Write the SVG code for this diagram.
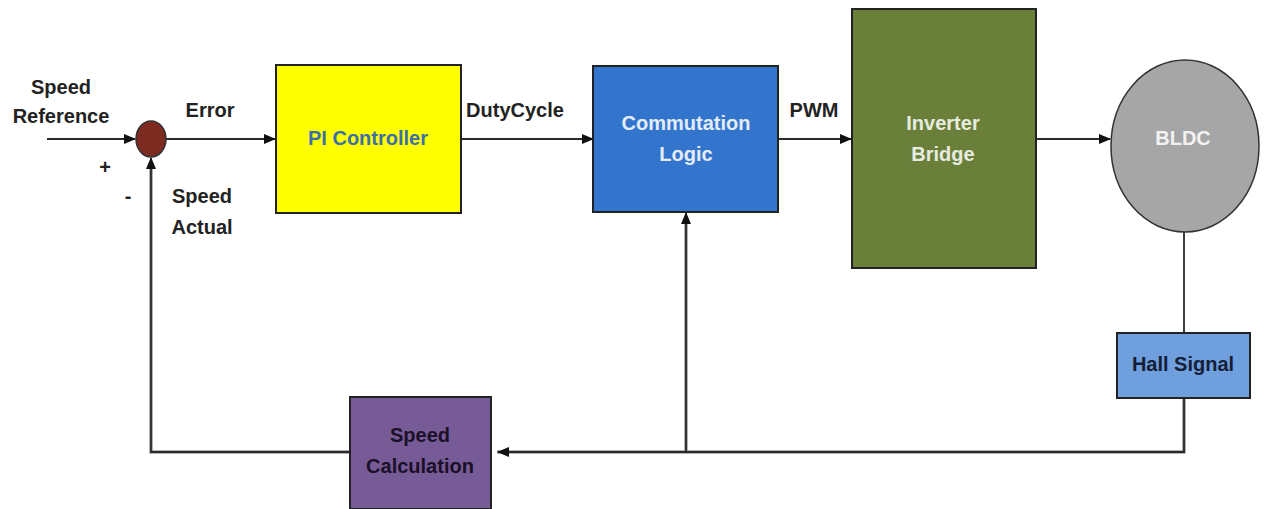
<svg xmlns="http://www.w3.org/2000/svg" width="1267" height="509" viewBox="0 0 1267 509">
<defs>
<marker id="arr" markerWidth="12" markerHeight="10" refX="11" refY="5" orient="auto" markerUnits="userSpaceOnUse">
<path d="M0,0 L12,5 L0,10 Z" fill="#111"/>
</marker>
<style>
text{font-family:"Liberation Sans",Arial,sans-serif;font-weight:bold;font-size:20px;text-anchor:middle}
.lbl{fill:#222}
.box{stroke:#222;stroke-width:2}
.ln{fill:none;stroke:#2a2a2a;stroke-width:1.8}
.fb{fill:none;stroke:#9a9a9a;stroke-width:3.5}
</style>
</defs>
<rect width="1267" height="509" fill="#ffffff"/>
<g id="connectors">
<path class="fb" d="M1184,398 V452 H497 M686,452 V218 M350,452 H151 V164"/>
<line class="ln" x1="47" y1="139" x2="135" y2="139" marker-end="url(#arr)"/>
<line class="ln" x1="166" y1="139" x2="275" y2="139" marker-end="url(#arr)"/>
<line class="ln" x1="461" y1="139" x2="593" y2="139" marker-end="url(#arr)"/>
<line class="ln" x1="778" y1="139" x2="851" y2="139" marker-end="url(#arr)"/>
<line class="ln" x1="1036" y1="139" x2="1110" y2="139" marker-end="url(#arr)"/>
<line class="ln" x1="1184" y1="232" x2="1184" y2="333"/>
<path class="ln" d="M1184,398 V452 H498" marker-end="url(#arr)"/>
<line class="ln" x1="686" y1="452" x2="686" y2="213" marker-end="url(#arr)"/>
<path class="ln" d="M350,452 H151 V158" marker-end="url(#arr)"/>
</g>
<g id="labels">
<text class="lbl" x="61" y="94">Speed</text>
<text class="lbl" x="61" y="123">Reference</text>
<text class="lbl" x="105" y="174">+</text>
<text class="lbl" x="128" y="203">-</text>
<text class="lbl" x="210" y="117">Error</text>
<text class="lbl" x="202" y="203">Speed</text>
<text class="lbl" x="202" y="234">Actual</text>
<text class="lbl" x="515" y="117">DutyCycle</text>
<text class="lbl" x="814" y="117">PWM</text>
</g>
<g id="sum">
<ellipse cx="151" cy="139" rx="15" ry="18" fill="#7d2a20" stroke="#333" stroke-width="1.5"/>
</g>
<g id="pi">
<rect class="box" x="276" y="65" width="185" height="148" fill="#ffff00"/>
<text x="368" y="145" fill="#3d6fa8">PI Controller</text>
</g>
<g id="commutation">
<rect class="box" x="593" y="66" width="185" height="146" fill="#3375cc"/>
<text x="686" y="130" fill="#e4ecf7">Commutation</text>
<text x="686" y="161" fill="#e4ecf7">Logic</text>
</g>
<g id="inverter">
<rect class="box" x="852" y="9" width="184" height="259" fill="#6a7f39"/>
<text x="943" y="130" fill="#e8ebe0">Inverter</text>
<text x="943" y="161" fill="#e8ebe0">Bridge</text>
</g>
<g id="bldc">
<ellipse cx="1185" cy="146" rx="74" ry="86" fill="#a6a6a6" stroke="#333" stroke-width="1.5"/>
<text x="1183" y="145" fill="#f2f2f2">BLDC</text>
</g>
<g id="hall">
<rect class="box" x="1117" y="333" width="133" height="65" fill="#6f9fdc"/>
<text x="1183" y="371" fill="#142038">Hall Signal</text>
</g>
<g id="speedcalc">
<rect class="box" x="350" y="397" width="141" height="112" fill="#775b96"/>
<text x="420" y="442" fill="#1a1028">Speed</text>
<text x="420" y="473" fill="#1a1028">Calculation</text>
</g>
</svg>
